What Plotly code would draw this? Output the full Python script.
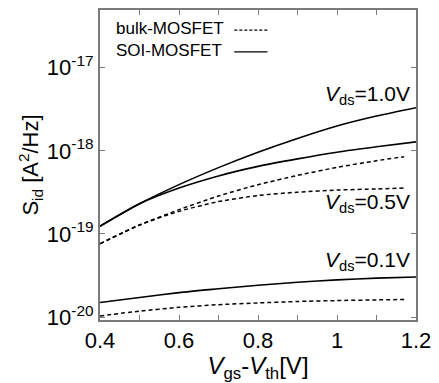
import plotly.graph_objects as go

# Data
vov = [0.4, 0.5, 0.6, 0.7, 0.8, 0.9, 1.0, 1.1, 1.2]
vov_bulk = [0.4, 0.5, 0.6, 0.7, 0.8, 0.9, 1.0, 1.1, 1.17]

soi_vds10 = [1.24e-19, 2.31e-19, 3.92e-19, 6.28e-19, 9.62e-19, 1.41e-18, 1.99e-18, 2.62e-18, 3.30e-18]
soi_vds05 = [1.24e-19, 2.31e-19, 3.57e-19, 4.99e-19, 6.50e-19, 8.00e-19, 9.62e-19, 1.117e-18, 1.28e-18]
soi_vds01 = [1.50e-20, 1.72e-20, 1.97e-20, 2.19e-20, 2.42e-20, 2.62e-20, 2.80e-20, 2.94e-20, 3.03e-20]

bulk_vds10 = [7.62e-20, 1.28e-19, 1.96e-19, 2.86e-19, 3.91e-19, 5.06e-19, 6.32e-19, 7.60e-19, 8.49e-19]
bulk_vds05 = [7.62e-20, 1.28e-19, 1.87e-19, 2.45e-19, 2.90e-19, 3.18e-19, 3.37e-19, 3.48e-19, 3.57e-19]
bulk_vds01 = [1.03e-20, 1.18e-20, 1.31e-20, 1.41e-20, 1.48e-20, 1.54e-20, 1.58e-20, 1.61e-20, 1.63e-20]

x_tickvals = [0.4, 0.5, 0.6, 0.7, 0.8, 0.9, 1.0, 1.1, 1.2]
x_ticktext = ["0.4", "", "0.6", "", "0.8", "", "1", "", "1.2"]
y_tickvals = [1e-20, 1e-19, 1e-18, 1e-17]
y_ticktext = ["10<sup>-20</sup>", "10<sup>-19</sup>", "10<sup>-18</sup>", "10<sup>-17</sup>"]

FONT = "Liberation Sans, Arial, sans-serif"
AXCOL = "#7a7a7a"

fig = go.Figure()
solid = dict(color="black", width=1.6, shape="spline", smoothing=0.7)
dashed = dict(color="black", width=1.5, dash="4px,3px", shape="spline", smoothing=0.7)

for name, ys in [("SOI Vds=1.0V", soi_vds10), ("SOI Vds=0.5V", soi_vds05), ("SOI Vds=0.1V", soi_vds01)]:
    fig.add_trace(go.Scatter(x=vov, y=ys, mode="lines", line=solid, name=name, showlegend=False))
for name, ys in [("bulk Vds=1.0V", bulk_vds10), ("bulk Vds=0.5V", bulk_vds05), ("bulk Vds=0.1V", bulk_vds01)]:
    fig.add_trace(go.Scatter(x=vov_bulk, y=ys, mode="lines", line=dashed, name=name, showlegend=False))

axis_common = dict(
    showgrid=False, zeroline=False, showline=True, linecolor=AXCOL, linewidth=2,
    mirror="ticks", ticks="inside", ticklen=5, tickwidth=1.2, tickcolor=AXCOL,
    tickfont=dict(family=FONT, size=22, color="black"),
)

fig.update_xaxes(
    range=[0.4, 1.2], tickmode="array", tickvals=x_tickvals, ticktext=x_ticktext,
    title=dict(text="<i>V</i><sub>gs</sub>-<i>V</i><sub>th</sub>[V]",
               font=dict(family=FONT, size=24, color="black"), standoff=5),
    **axis_common,
)
fig.update_yaxes(
    type="log", range=[-20.035, -16.306], tickmode="array",
    tickvals=y_tickvals, ticktext=y_ticktext,
    title=dict(text="S<sub>id</sub> [A<sup>2</sup>/Hz]",
               font=dict(family=FONT, size=22, color="black"), standoff=2),
    **axis_common,
)

ann_font = dict(family=FONT, size=21, color="black")
annotations = [
    dict(x=1.19, y=-17.33, xref="x", yref="y", text="<i>V</i><sub>ds</sub>=1.0V",
         showarrow=False, xanchor="right", yanchor="middle", font=ann_font),
    dict(x=1.19, y=-18.63, xref="x", yref="y", text="<i>V</i><sub>ds</sub>=0.5V",
         showarrow=False, xanchor="right", yanchor="middle", font=ann_font),
    dict(x=1.19, y=-19.33, xref="x", yref="y", text="<i>V</i><sub>ds</sub>=0.1V",
         showarrow=False, xanchor="right", yanchor="middle", font=ann_font),
    dict(x=0.045, y=0.94, xref="paper", yref="paper", text="bulk-MOSFET",
         showarrow=False, xanchor="left", yanchor="middle",
         font=dict(family=FONT, size=17, color="black")),
    dict(x=0.045, y=0.87, xref="paper", yref="paper", text="SOI-MOSFET",
         showarrow=False, xanchor="left", yanchor="middle",
         font=dict(family=FONT, size=17, color="black")),
]

shapes = [
    dict(type="line", xref="paper", yref="paper", x0=0.425, x1=0.53, y0=0.935, y1=0.935,
         line=dict(color="black", width=1.2, dash="3px,2px")),
    dict(type="line", xref="paper", yref="paper", x0=0.425, x1=0.53, y0=0.865, y1=0.865,
         line=dict(color="black", width=1.4)),
]

fig.update_layout(
    width=439, height=383,
    margin=dict(l=100, r=22, t=8, b=58),
    paper_bgcolor="white", plot_bgcolor="white",
    showlegend=False,
    annotations=annotations, shapes=shapes,
    font=dict(family=FONT, color="black"),
)

fig.write_html(
    "out.html",
    config={"displayModeBar": False},
    post_script="document.body.style.margin='0px';document.body.style.overflow='hidden';",
)
